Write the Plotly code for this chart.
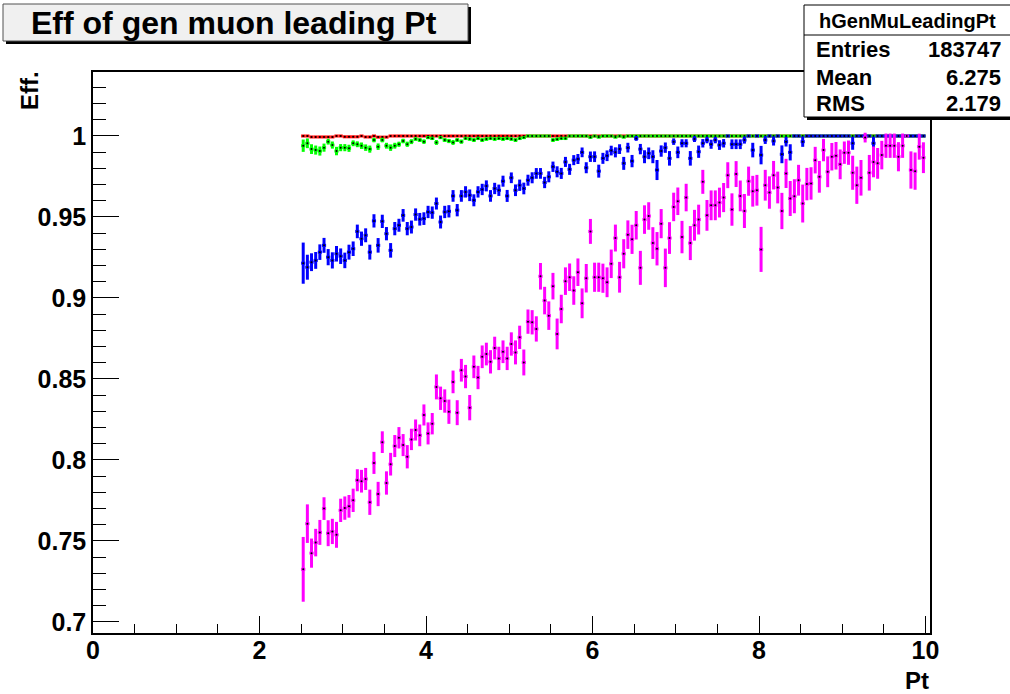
import plotly.graph_objects as go

# ---------------- data ----------------
pt_centers = [
    2.525, 2.575, 2.625, 2.675, 2.725, 2.775, 2.825, 2.875, 2.925, 2.975,
    3.025, 3.075, 3.125, 3.175, 3.225, 3.275, 3.325, 3.375, 3.425, 3.475,
    3.525, 3.575, 3.625, 3.675, 3.725, 3.775, 3.825, 3.875, 3.925, 3.975,
    4.025, 4.075, 4.125, 4.175, 4.225, 4.275, 4.325, 4.375, 4.425, 4.475,
    4.525, 4.575, 4.625, 4.675, 4.725, 4.775, 4.825, 4.875, 4.925, 4.975,
    5.025, 5.075, 5.125, 5.175, 5.225, 5.275, 5.325, 5.375, 5.425, 5.475,
    5.525, 5.575, 5.625, 5.675, 5.725, 5.775, 5.825, 5.875, 5.925, 5.975,
    6.025, 6.075, 6.125, 6.175, 6.225, 6.275, 6.325, 6.375, 6.425, 6.475,
    6.525, 6.575, 6.625, 6.675, 6.725, 6.775, 6.825, 6.875, 6.925, 6.975,
    7.025, 7.075, 7.125, 7.175, 7.225, 7.275, 7.325, 7.375, 7.425, 7.475,
    7.525, 7.575, 7.625, 7.675, 7.725, 7.775, 7.825, 7.875, 7.925, 7.975,
    8.025, 8.075, 8.125, 8.175, 8.225, 8.275, 8.325, 8.375, 8.425, 8.475,
    8.525, 8.575, 8.625, 8.675, 8.725, 8.775, 8.825, 8.875, 8.925, 8.975,
    9.025, 9.075, 9.125, 9.175, 9.225, 9.275, 9.325, 9.375, 9.425, 9.475,
    9.525, 9.575, 9.625, 9.675, 9.725, 9.775, 9.825, 9.875, 9.925, 9.975,
]
half_bin_width = 0.025

eff_red = [
    1.0, 1.0, 0.9994, 0.9994, 0.9994, 0.9994, 0.9994, 0.9994, 1.0, 1.0,
    0.9995, 0.9995, 0.9995, 0.9995, 1.0, 0.9994, 0.9994, 1.0, 0.9993, 0.9993,
    0.9993, 1.0, 1.0, 1.0, 1.0, 1.0, 1.0, 1.0, 1.0, 1.0,
    1.0, 1.0, 1.0, 1.0, 1.0, 1.0, 1.0, 1.0, 1.0, 1.0,
    1.0, 1.0, 1.0, 1.0, 1.0, 1.0, 1.0, 1.0, 1.0, 1.0,
    1.0, 1.0, 1.0, 1.0, 1.0, 1.0, 1.0, 1.0, 1.0, 1.0,
    1.0, 1.0, 1.0, 1.0, 1.0, 1.0, 1.0, 1.0, 1.0, 1.0,
    1.0, 1.0, 1.0, 1.0, 1.0, 1.0, 1.0, 1.0, 1.0, 1.0,
    1.0, 1.0, 1.0, 1.0, 1.0, 1.0, 1.0, 1.0, 1.0, 1.0,
    1.0, 1.0, 1.0, 1.0, 1.0, 1.0, 1.0, 1.0, 1.0, 1.0,
    1.0, 1.0, 1.0, 1.0, 1.0, 1.0, 1.0, 1.0, 1.0, 1.0,
    1.0, 1.0, 1.0, 1.0, 1.0, 1.0, 1.0, 1.0, 1.0, 1.0,
    1.0, 1.0, 1.0, 1.0, 1.0, 1.0, 1.0, 1.0, 1.0, 1.0,
    1.0, 1.0, 1.0, 1.0, 1.0, 1.0, 1.0, 1.0, 1.0, 1.0,
    1.0, 1.0, 1.0, 1.0, 1.0, 1.0, 1.0, 1.0, 1.0, 1.0,
]
err_red = [
    0.0, 0.0, 0.0004, 0.0004, 0.0004, 0.0004, 0.0004, 0.0004, 0.0, 0.0,
    0.0004, 0.0004, 0.0004, 0.0004, 0.0, 0.0004, 0.0004, 0.0, 0.0004, 0.0004,
    0.0004, 0.0, 0.0, 0.0, 0.0, 0.0, 0.0, 0.0, 0.0, 0.0,
    0.0, 0.0, 0.0, 0.0, 0.0, 0.0, 0.0, 0.0, 0.0, 0.0,
    0.0, 0.0, 0.0, 0.0, 0.0, 0.0, 0.0, 0.0, 0.0, 0.0,
    0.0, 0.0, 0.0, 0.0, 0.0, 0.0, 0.0, 0.0, 0.0, 0.0,
    0.0, 0.0, 0.0, 0.0, 0.0, 0.0, 0.0, 0.0, 0.0, 0.0,
    0.0, 0.0, 0.0, 0.0, 0.0, 0.0, 0.0, 0.0, 0.0, 0.0,
    0.0, 0.0, 0.0, 0.0, 0.0, 0.0, 0.0, 0.0, 0.0, 0.0,
    0.0, 0.0, 0.0, 0.0, 0.0, 0.0, 0.0, 0.0, 0.0, 0.0,
    0.0, 0.0, 0.0, 0.0, 0.0, 0.0, 0.0, 0.0, 0.0, 0.0,
    0.0, 0.0, 0.0, 0.0, 0.0, 0.0, 0.0, 0.0, 0.0, 0.0,
    0.0, 0.0, 0.0, 0.0, 0.0, 0.0, 0.0, 0.0, 0.0, 0.0,
    0.0, 0.0, 0.0, 0.0, 0.0, 0.0, 0.0, 0.0, 0.0, 0.0,
    0.0, 0.0, 0.0, 0.0, 0.0, 0.0, 0.0, 0.0, 0.0, 0.0,
]

eff_green = [
    0.9940, 0.9955, 0.9919, 0.9913, 0.9907, 0.9928, 0.9965, 0.9944, 0.9907, 0.9928,
    0.9928, 0.9924, 0.9955, 0.9949, 0.9940, 0.9928, 0.9919, 0.9975, 0.9934, 0.9975,
    0.9940, 0.9928, 0.9940, 0.9949, 0.9969, 0.9949, 0.9965, 0.9981, 0.9975, 0.9965,
    0.9990, 0.9985, 0.9960, 0.9990, 0.9975, 0.9969, 0.9960, 0.9975, 0.9965, 0.9985,
    0.9981, 0.9975, 0.9985, 0.9975, 0.9981, 0.9985, 0.9981, 0.9985, 0.9981, 0.9985,
    0.9981, 0.9975, 0.9985, 0.9990, 1.0, 1.0, 1.0, 1.0, 1.0, 1.0,
    0.9975, 0.9980, 0.9985, 0.9985, 1.0, 1.0, 1.0, 1.0, 1.0, 0.9992,
    1.0, 0.9993, 1.0, 1.0, 1.0, 0.9993, 1.0, 0.9993, 1.0, 1.0,
    1.0, 1.0, 1.0, 1.0, 1.0, 1.0, 1.0, 1.0, 1.0, 1.0,
    1.0, 1.0, 1.0, 1.0, 1.0, 1.0, 1.0, 1.0, 1.0, 1.0,
    1.0, 1.0, 1.0, 1.0, 1.0, 1.0, 1.0, 1.0, 1.0, 1.0,
    1.0, 1.0, 1.0, 1.0, 1.0, 1.0, 1.0, 1.0, 1.0, 1.0,
    1.0, 1.0, 1.0, 1.0, 1.0, 1.0, 1.0, 1.0, 1.0, 1.0,
    1.0, 1.0, 1.0, 1.0, 1.0, 1.0, 1.0, 1.0, 1.0, 1.0,
    1.0, 1.0, 1.0, 1.0, 1.0, 1.0, 1.0, 1.0, 1.0, 1.0,
]
err_green = [
    0.0038, 0.0030, 0.0030, 0.0028, 0.0028, 0.0025, 0.0018, 0.0022, 0.0026, 0.0022,
    0.0022, 0.0022, 0.0018, 0.0018, 0.0020, 0.0020, 0.0022, 0.0014, 0.0020, 0.0014,
    0.0018, 0.0020, 0.0018, 0.0016, 0.0014, 0.0016, 0.0015, 0.0011, 0.0012, 0.0014,
    0.0009, 0.0010, 0.0015, 0.0009, 0.0012, 0.0013, 0.0015, 0.0012, 0.0013, 0.0010,
    0.0011, 0.0012, 0.0010, 0.0012, 0.0011, 0.0010, 0.0011, 0.0010, 0.0011, 0.0010,
    0.0011, 0.0012, 0.0010, 0.0008, 0.0, 0.0, 0.0, 0.0, 0.0, 0.0,
    0.0012, 0.0011, 0.0010, 0.0010, 0.0, 0.0, 0.0, 0.0, 0.0, 0.0007,
    0.0, 0.0007, 0.0, 0.0, 0.0, 0.0007, 0.0, 0.0007, 0.0, 0.0,
    0.0, 0.0, 0.0, 0.0, 0.0, 0.0, 0.0, 0.0, 0.0, 0.0,
    0.0, 0.0, 0.0, 0.0, 0.0, 0.0, 0.0, 0.0, 0.0, 0.0,
    0.0, 0.0, 0.0, 0.0, 0.0, 0.0, 0.0, 0.0, 0.0, 0.0,
    0.0, 0.0, 0.0, 0.0, 0.0, 0.0, 0.0, 0.0, 0.0, 0.0,
    0.0, 0.0, 0.0, 0.0, 0.0, 0.0, 0.0, 0.0, 0.0, 0.0,
    0.0, 0.0, 0.0, 0.0, 0.0, 0.0, 0.0, 0.0, 0.0, 0.0,
    0.0, 0.0, 0.0, 0.0, 0.0, 0.0, 0.0, 0.0, 0.0, 0.0,
]

eff_blue = [
    0.9215, 0.9190, 0.9221, 0.9232, 0.9283, 0.9325, 0.9252, 0.9232, 0.9273, 0.9258,
    0.9232, 0.9283, 0.9304, 0.9411, 0.9366, 0.9387, 0.9283, 0.9476, 0.9325, 0.9473,
    0.9397, 0.9294, 0.9428, 0.9449, 0.9510, 0.9428, 0.9438, 0.9515, 0.9486, 0.9490,
    0.9531, 0.9527, 0.9583, 0.9469, 0.9531, 0.9535, 0.9630, 0.9542, 0.9630, 0.9655,
    0.9634, 0.9603, 0.9655, 0.9670, 0.9692, 0.9630, 0.9676, 0.9665, 0.9721, 0.9630,
    0.9742, 0.9665, 0.9696, 0.9676, 0.9727, 0.9742, 0.9769, 0.9769, 0.9713, 0.9748,
    0.9810, 0.9779, 0.9769, 0.9840, 0.9794, 0.9851, 0.9858, 0.9899, 0.9804, 0.9872,
    0.9872, 0.9783, 0.9862, 0.9878, 0.9910, 0.9899, 0.9919, 0.9831, 0.9928, 0.9845,
    0.9985, 0.9919, 0.9872, 0.9893, 0.9872, 0.9790, 0.9907, 0.9928, 0.9862, 0.9965,
    0.9899, 0.9955, 0.9955, 0.9862, 0.9981, 0.9903, 0.9955, 0.9975, 0.9949, 0.9975,
    0.9944, 0.9955, 1.0000, 0.9949, 0.9949, 0.9949, 0.9975, 1.0000, 0.9913, 1.0000,
    0.9882, 0.9975, 1.0000, 0.9969, 1.0000, 0.9887, 0.9965, 0.9899, 1.0000, 1.0000,
    0.9965, 1.0, 1.0, 1.0, 1.0, 1.0, 1.0, 1.0, 1.0, 1.0,
    1.0, 1.0, 0.9955, 1.0, 1.0, 1.0, 1.0, 0.9955, 1.0, 1.0,
    1.0, 1.0, 1.0, 1.0, 1.0, 1.0, 1.0, 1.0, 1.0, 1.0,
]
err_blue = [
    0.0127, 0.0077, 0.0055, 0.0052, 0.0048, 0.0046, 0.0050, 0.0050, 0.0048, 0.0048,
    0.0048, 0.0046, 0.0045, 0.0042, 0.0044, 0.0043, 0.0046, 0.0041, 0.0045, 0.0041,
    0.0041, 0.0045, 0.0041, 0.0040, 0.0039, 0.0041, 0.0040, 0.0038, 0.0039, 0.0039,
    0.0038, 0.0038, 0.0037, 0.0040, 0.0038, 0.0038, 0.0036, 0.0038, 0.0036, 0.0035,
    0.0036, 0.0037, 0.0035, 0.0035, 0.0034, 0.0036, 0.0035, 0.0035, 0.0034, 0.0037,
    0.0033, 0.0036, 0.0035, 0.0036, 0.0034, 0.0034, 0.0033, 0.0033, 0.0035, 0.0034,
    0.0032, 0.0034, 0.0034, 0.0031, 0.0034, 0.0031, 0.0031, 0.0030, 0.0034, 0.0032,
    0.0033, 0.0040, 0.0034, 0.0033, 0.0030, 0.0031, 0.0030, 0.0040, 0.0030, 0.0038,
    0.0015, 0.0032, 0.0040, 0.0036, 0.0040, 0.0062, 0.0035, 0.0032, 0.0045, 0.0020,
    0.0036, 0.0025, 0.0025, 0.0045, 0.0018, 0.0038, 0.0026, 0.0020, 0.0028, 0.0020,
    0.0030, 0.0026, 0.0, 0.0030, 0.0030, 0.0030, 0.0022, 0.0, 0.0045, 0.0,
    0.0057, 0.0024, 0.0, 0.0028, 0.0, 0.0055, 0.0030, 0.0050, 0.0, 0.0,
    0.0032, 0.0, 0.0, 0.0, 0.0, 0.0, 0.0, 0.0, 0.0, 0.0,
    0.0, 0.0, 0.0040, 0.0, 0.0, 0.0, 0.0, 0.0040, 0.0, 0.0,
    0.0, 0.0, 0.0, 0.0, 0.0, 0.0, 0.0, 0.0, 0.0, 0.0,
]

eff_magenta = [
    0.7325, 0.7607, 0.7425, 0.7490, 0.7553, 0.7700, 0.7548, 0.7559, 0.7538, 0.7689,
    0.7703, 0.7714, 0.7751, 0.7875, 0.7869, 0.7883, 0.7739, 0.7982, 0.7790, 0.8110,
    0.7858, 0.7974, 0.8086, 0.8137, 0.8092, 0.8020, 0.8127, 0.8185, 0.8152, 0.8278,
    0.8164, 0.8224, 0.8451, 0.8381, 0.8364, 0.8298, 0.8482, 0.8292, 0.8554, 0.8515,
    0.8323, 0.8575, 0.8509, 0.8637, 0.8654, 0.8606, 0.8691, 0.8627, 0.8668, 0.8627,
    0.8716, 0.8664, 0.8757, 0.8602, 0.8854, 0.8850, 0.8809, 0.9134, 0.8984, 0.8891,
    0.9073, 0.8778, 0.8932, 0.9104, 0.9128, 0.9046, 0.9159, 0.8967, 0.9122, 0.9411,
    0.9128, 0.9128, 0.9122, 0.9097, 0.9211, 0.9370, 0.9128, 0.9273, 0.9391, 0.9362,
    0.9449, 0.9186, 0.9484, 0.9506, 0.9339, 0.9304, 0.9459, 0.9186, 0.9370, 0.9562,
    0.9597, 0.9376, 0.9620, 0.9339, 0.9449, 0.9484, 0.9717, 0.9510, 0.9572, 0.9572,
    0.9589, 0.9620, 0.9758, 0.9546, 0.9765, 0.9630, 0.9537, 0.9721, 0.9659, 0.9665,
    0.9300, 0.9696, 0.9651, 0.9758, 0.9682, 0.9537, 0.9769, 0.9614, 0.9628, 0.9727,
    0.9583, 0.9703, 0.9707, 0.9851, 0.9748, 0.9913, 0.9779, 0.9872, 0.9878, 0.9825,
    0.9897, 0.9897, 0.9773, 0.9696, 0.9742, 0.9990, 0.9773, 0.9840, 0.9831, 0.9882,
    0.9940, 0.9940, 0.9940, 0.9872, 0.9940, 1.0000, 0.9790, 0.9783, 0.9934, 0.9866,
]
err_magenta = [
    0.0200, 0.0119, 0.0090, 0.0085, 0.0077, 0.0070, 0.0080, 0.0078, 0.0080, 0.0072,
    0.0072, 0.0070, 0.0072, 0.0068, 0.0070, 0.0068, 0.0078, 0.0068, 0.0075, 0.0067,
    0.0072, 0.0070, 0.0068, 0.0066, 0.0068, 0.0072, 0.0066, 0.0065, 0.0067, 0.0065,
    0.0068, 0.0066, 0.0077, 0.0072, 0.0072, 0.0075, 0.0070, 0.0077, 0.0070, 0.0072,
    0.0078, 0.0070, 0.0072, 0.0070, 0.0070, 0.0072, 0.0070, 0.0072, 0.0070, 0.0072,
    0.0072, 0.0074, 0.0072, 0.0080, 0.0075, 0.0075, 0.0078, 0.0082, 0.0085, 0.0088,
    0.0082, 0.0095, 0.0088, 0.0085, 0.0085, 0.0088, 0.0085, 0.0092, 0.0088, 0.0077,
    0.0090, 0.0090, 0.0090, 0.0092, 0.0088, 0.0083, 0.0095, 0.0090, 0.0088, 0.0090,
    0.0088, 0.0105, 0.0088, 0.0085, 0.0098, 0.0103, 0.0090, 0.0119, 0.0098, 0.0088,
    0.0085, 0.0100, 0.0085, 0.0105, 0.0095, 0.0092, 0.0074, 0.0095, 0.0092, 0.0092,
    0.0092, 0.0090, 0.0080, 0.0100, 0.0080, 0.0095, 0.0105, 0.0090, 0.0095, 0.0095,
    0.0139, 0.0095, 0.0100, 0.0088, 0.0098, 0.0112, 0.0090, 0.0108, 0.0105, 0.0095,
    0.0117, 0.0100, 0.0100, 0.0082, 0.0098, 0.0069, 0.0095, 0.0085, 0.0085, 0.0092,
    0.0069, 0.0075, 0.0105, 0.0115, 0.0110, 0.0030, 0.0110, 0.0095, 0.0095, 0.0088,
    0.0075, 0.0075, 0.0075, 0.0090, 0.0075, 0.0000, 0.0115, 0.0115, 0.0080, 0.0095,
]

x_tick_vals = [0, 2, 4, 6, 8, 10]
x_tick_text = ["0", "2", "4", "6", "8", "10"]
y_tick_vals = [0.7, 0.75, 0.8, 0.85, 0.9, 0.95, 1.0]
y_tick_text = ["0.7", "0.75", "0.8", "0.85", "0.9", "0.95", "1"]

title_text = "Eff of gen muon leading Pt"
x_title = "Pt"
y_title = "Eff."
stats_name = "hGenMuLeadingPt"
stats_labels = ["Entries", "Mean", "RMS"]
stats_values = ["183747", "6.275", "2.179"]

# ---------------- layout geometry (pixels) ----------------
W, H = 1010, 694
L, R, T, B = 93, 80, 72, 61
PW = W - L - R
PH = H - T - B


def px(xp):
    return (xp - L) / PW


def py(yp):
    return (H - B - yp) / PH


FONT = "Liberation Sans, Arial, Helvetica, sans-serif"

fig = go.Figure()

series = [
    (eff_red, err_red, "#ff0000"),
    (eff_green, err_green, "#00ff00"),
    (eff_blue, err_blue, "#0000ff"),
    (eff_magenta, err_magenta, "#ff00ff"),
]
for yv, ev, col in series:
    fig.add_trace(go.Scatter(
        x=pt_centers, y=yv, mode="markers",
        marker=dict(color="black", size=2),
        error_y=dict(type="data", array=ev, visible=True, color=col,
                     thickness=3, width=0),
        error_x=dict(type="constant", value=half_bin_width, visible=True,
                     color=col, thickness=3, width=0),
        showlegend=False, hoverinfo="skip",
    ))

tickfont = dict(family=FONT, size=25, color="black", weight="bold")

fig.update_layout(
    width=W, height=H,
    margin=dict(l=L, r=R, t=T, b=B, pad=0),
    paper_bgcolor="white", plot_bgcolor="white",
    xaxis=dict(
        range=[0, 10.054], showgrid=False, zeroline=False,
        showline=True, linecolor="black", linewidth=2, mirror=True,
        ticks="inside", ticklen=17, tickwidth=1, tickcolor="black",
        tickmode="array", tickvals=x_tick_vals, ticktext=x_tick_text,
        tickfont=tickfont, ticklabelstandoff=-6,
        minor=dict(ticks="inside", ticklen=9, tickwidth=1, tickcolor="black",
                   tickmode="linear", tick0=0, dtick=0.5, showgrid=False),
    ),
    yaxis=dict(
        range=[0.6932, 1.0395], showgrid=False, zeroline=False,
        showline=True, linecolor="black", linewidth=1.5, mirror=True,
        ticks="inside", ticklen=26, tickwidth=1, tickcolor="black",
        tickmode="array", tickvals=y_tick_vals, ticktext=y_tick_text,
        tickfont=tickfont,
        minor=dict(ticks="inside", ticklen=13, tickwidth=1, tickcolor="black",
                   tickmode="linear", tick0=0.7, dtick=0.01, showgrid=False),
    ),
)

shapes = []
# title pave (shadow + box)
shapes.append(dict(type="rect", xref="paper", yref="paper", layer="above",
                   x0=px(6), x1=px(471), y0=py(44), y1=py(7),
                   fillcolor="black", line=dict(width=0)))
shapes.append(dict(type="rect", xref="paper", yref="paper", layer="above",
                   x0=px(3), x1=px(468), y0=py(41), y1=py(4),
                   fillcolor="#f0f0f0", line=dict(color="#505050", width=1)))
# stats box (shadow + box + separator)
shapes.append(dict(type="rect", xref="paper", yref="paper", layer="above",
                   x0=px(807), x1=px(1015), y0=py(120), y1=py(8),
                   fillcolor="black", line=dict(width=0)))
shapes.append(dict(type="rect", xref="paper", yref="paper", layer="above",
                   x0=px(804), x1=px(1012), y0=py(117), y1=py(5),
                   fillcolor="white", line=dict(color="black", width=1)))
shapes.append(dict(type="line", xref="paper", yref="paper", layer="above",
                   x0=px(804), x1=px(1012), y0=py(35), y1=py(35),
                   line=dict(color="black", width=1)))
fig.update_layout(shapes=shapes)

ann = []
ann.append(dict(text=title_text, x=px(234), y=py(23), xref="paper", yref="paper",
                xanchor="center", yanchor="middle", showarrow=False,
                font=dict(family=FONT, size=32, color="black", weight="bold")))
ann.append(dict(text=y_title, x=px(30), y=py(91), xref="paper", yref="paper",
                xanchor="center", yanchor="middle", showarrow=False, textangle=-90,
                font=dict(family=FONT, size=24, color="black", weight="bold")))
ann.append(dict(text=x_title, x=px(931), y=py(681), xref="paper", yref="paper",
                xanchor="right", yanchor="middle", showarrow=False,
                font=dict(family=FONT, size=24, color="black", weight="bold")))
ann.append(dict(text=stats_name, x=px(907), y=py(21), xref="paper", yref="paper",
                xanchor="center", yanchor="middle", showarrow=False,
                font=dict(family=FONT, size=20, color="black", weight="bold")))
row_y = [50, 77, 103]
for lab, val, yy in zip(stats_labels, stats_values, row_y):
    ann.append(dict(text=lab, x=px(814), y=py(yy), xref="paper", yref="paper",
                    xanchor="left", yanchor="middle", showarrow=False,
                    font=dict(family=FONT, size=22, color="black", weight="bold")))
    ann.append(dict(text=val, x=px(1003), y=py(yy), xref="paper", yref="paper",
                    xanchor="right", yanchor="middle", showarrow=False,
                    font=dict(family=FONT, size=22, color="black", weight="bold")))
fig.update_layout(annotations=ann)

fig.write_html("out.html")
